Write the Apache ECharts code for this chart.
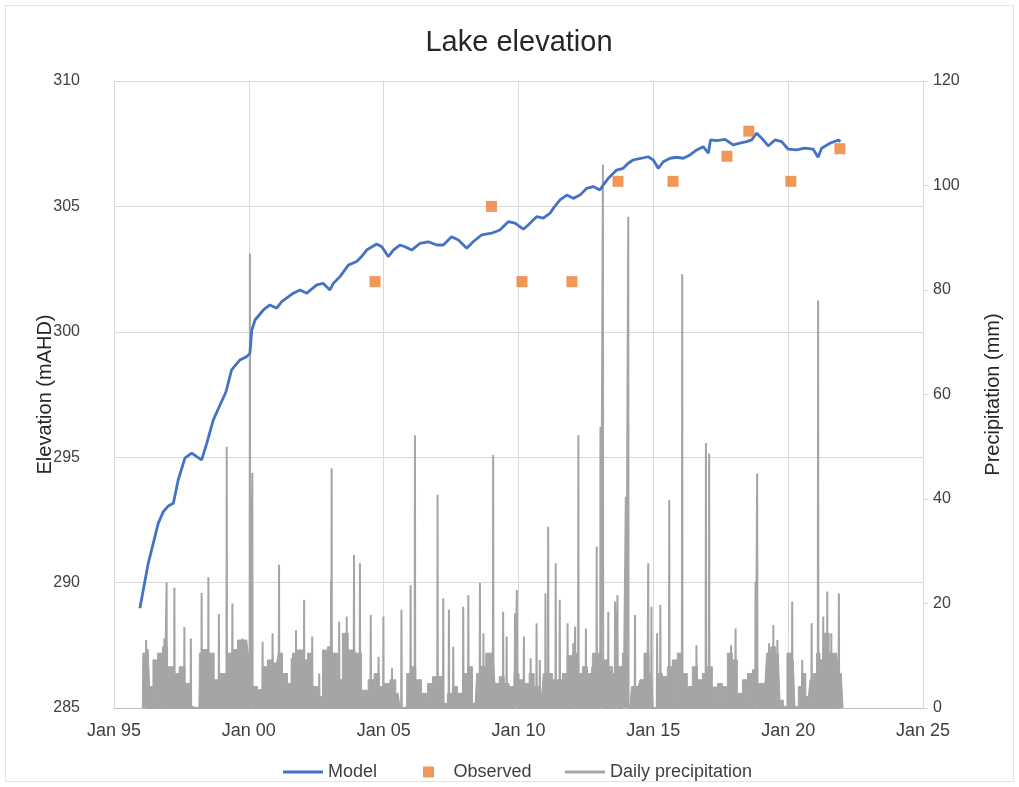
<!DOCTYPE html>
<html>
<head>
<meta charset="utf-8">
<script src="https://cdn.jsdelivr.net/npm/echarts@6/dist/echarts.min.js"></script>
<style>html,body{margin:0;padding:0;background:#fff}#c{width:1019px;height:787px}</style>
</head>
<body>
<div id="c"></div>
<script>
// ---- data ----
const xTickLabels = ['Jan 95','Jan 00','Jan 05','Jan 10','Jan 15','Jan 20','Jan 25'];

const modelYears = [1995.96,1996.27,1996.64,1996.83,1997.01,1997.20,1997.38,1997.63,1997.88,1998.07,1998.25,1998.44,1998.68,1998.93,1999.15,1999.36,1999.67,1999.92,2000.04,2000.11,2000.23,2000.54,2000.78,2001.03,2001.22,2001.65,2001.90,2002.15,2002.52,2002.76,2003.01,2003.13,2003.38,2003.69,2004.00,2004.18,2004.37,2004.74,2004.93,2005.17,2005.36,2005.60,2005.79,2006.04,2006.35,2006.65,2006.97,2007.21,2007.52,2007.77,2008.08,2008.32,2008.63,2009.00,2009.31,2009.62,2009.87,2010.18,2010.36,2010.67,2010.92,2011.17,2011.29,2011.54,2011.79,2012.03,2012.28,2012.53,2012.77,2013.02,2013.14,2013.33,2013.64,2013.88,2014.07,2014.25,2014.57,2014.81,2015.00,2015.18,2015.37,2015.62,2015.86,2016.11,2016.36,2016.61,2016.85,2017.04,2017.12,2017.35,2017.66,2017.96,2018.21,2018.46,2018.65,2018.83,2019.02,2019.26,2019.51,2019.76,2020.00,2020.31,2020.62,2020.93,2021.11,2021.24,2021.55,2021.86,2021.94];
const modelElev = [288.98,290.77,292.36,292.83,293.05,293.16,294.09,294.96,295.16,295.02,294.89,295.55,296.48,297.08,297.60,298.48,298.88,299.01,299.14,300.07,300.47,300.87,301.07,300.94,301.20,301.54,301.67,301.54,301.87,301.93,301.67,301.93,302.20,302.66,302.80,303.00,303.26,303.50,303.39,303.00,303.26,303.46,303.39,303.26,303.53,303.59,303.46,303.46,303.79,303.66,303.33,303.59,303.86,303.93,304.06,304.39,304.33,304.09,304.26,304.59,304.53,304.73,304.92,305.26,305.45,305.32,305.45,305.72,305.79,305.65,305.85,306.12,306.45,306.52,306.72,306.85,306.92,306.98,306.85,306.52,306.78,306.92,306.96,306.92,307.05,307.25,307.38,307.12,307.65,307.62,307.67,307.45,307.52,307.58,307.65,307.92,307.72,307.41,307.65,307.58,307.28,307.25,307.32,307.28,306.96,307.32,307.52,307.65,307.58];

const obsYears = [2004.68,2009.00,2010.13,2011.98,2013.69,2015.73,2017.73,2018.54,2020.10,2021.92];
const obsElev  = [302.0,305.0,302.0,302.0,306.0,306.0,307.0,308.0,306.0,307.3];

const spikeYears = [1996.19,1996.87,1996.95,1997.24,1997.61,1997.85,1998.25,1998.50,1998.89,1999.18,1999.39,1999.76,2000.04,2000.13,2000.51,2000.88,2001.12,2001.37,2001.59,2001.75,2002.05,2002.35,2002.61,2003.05,2003.07,2003.35,2003.63,2003.90,2004.12,2004.52,2004.81,2004.99,2005.31,2005.66,2006.00,2006.16,2007.00,2007.21,2007.42,2007.58,2007.95,2008.14,2008.57,2008.70,2009.06,2009.43,2009.56,2009.87,2009.94,2010.20,2010.45,2010.67,2010.79,2011.00,2011.10,2011.38,2011.53,2011.82,2012.03,2012.10,2012.22,2012.50,2012.73,2012.90,2013.04,2013.13,2013.33,2013.58,2013.67,2013.89,2013.98,2014.07,2014.32,2014.77,2014.81,2014.93,2015.14,2015.26,2015.59,2016.07,2016.60,2016.95,2017.07,2017.88,2018.05,2018.79,2018.85,2019.29,2019.45,2019.60,2020.15,2020.52,2020.87,2021.11,2021.30,2021.45,2021.60,2021.88];
const spikeMm = [13,13.3,24,23,15.5,13.3,22,25,18,50,20,13.3,87,45,12.7,14.3,27.4,6.6,9.5,14.9,20.7,13.7,6.6,24.5,45.9,16.5,17.5,29.3,27.7,17.8,9.8,17.5,7.6,18.8,23.5,52.2,40.8,21,18.8,11.7,19.4,21.6,23.9,14.3,48.4,18.4,13.7,18.1,22.6,13.7,9.5,16.2,9.2,21.9,34.7,27.7,20.7,16.2,12.4,15.6,52.2,15.2,7.9,30.9,53.8,104,18.4,20.4,21.6,10.5,40.4,94,17.8,10.5,27.7,19.4,14.3,19.7,39.8,83,12,50.7,48.7,12,15.2,24.2,44.9,12.4,15.9,13,20.4,9.2,16.2,78,17.5,22.3,14.3,21.9];

const baseYears = [1996.05,1996.09,1996.27,1996.37,1996.52,1996.71,1996.89,1997.08,1997.32,1997.51,1997.75,1997.94,1997.98,1998.15,1998.19,1998.37,1998.62,1998.81,1999.05,1999.30,1999.49,1999.67,1999.92,2000.04,2000.23,2000.41,2000.60,2000.78,2001.03,2001.16,2001.34,2001.53,2001.71,2001.90,2002.08,2002.27,2002.45,2002.64,2002.82,2003.01,2003.19,2003.38,2003.56,2003.81,2004.06,2004.30,2004.55,2004.74,2004.93,2005.11,2005.36,2005.54,2005.67,2005.79,2005.92,2006.10,2006.28,2006.53,2006.72,2006.90,2007.09,2007.27,2007.46,2007.64,2007.83,2008.02,2008.20,2008.39,2008.51,2008.69,2008.88,2009.06,2009.19,2009.38,2009.56,2009.74,2009.93,2010.11,2010.30,2010.49,2010.67,2010.86,2010.98,2011.17,2011.35,2011.54,2011.72,2011.91,2012.09,2012.28,2012.46,2012.65,2012.83,2013.02,2013.20,2013.39,2013.58,2013.76,2013.95,2014.13,2014.25,2014.44,2014.56,2014.75,2014.93,2015.06,2015.14,2015.24,2015.43,2015.61,2015.80,2015.98,2016.17,2016.35,2016.54,2016.73,2016.91,2017.10,2017.28,2017.47,2017.65,2017.84,2018.02,2018.21,2018.40,2018.58,2018.77,2018.95,2019.14,2019.26,2019.45,2019.63,2019.76,2019.88,2020.03,2020.19,2020.31,2020.44,2020.56,2020.75,2020.87,2020.99,2021.12,2021.24,2021.43,2021.61,2021.80,2021.92,2022.02,2022.05];
const baseMm = [0,10.5,11.2,4.1,9.2,10.5,11.7,7.9,6.6,7.9,4.7,0.3,0,0,10.5,11.2,10.5,5.4,6.6,10.5,11.2,13,13,10.5,4.1,3.5,7.9,9.2,8.6,10.5,6.6,4.7,10.5,11.1,9.2,10.5,4.1,2.2,11.1,11.7,10.5,5.4,14.3,11.1,10.5,3.4,5.4,6.6,4.1,4.7,5.4,2.8,0,0.3,6.6,7.9,5.4,2.8,4.7,6,6,0.9,2.8,4.1,2.8,6.6,7.9,0.9,6.6,7.9,10.5,10.5,4.7,6,4.7,4.1,6.6,5.4,4.7,6.6,4.1,2.8,6.6,6.6,5.4,5.4,6.6,10,10.5,6.6,7.9,6.6,10.5,10.5,9.2,7.9,6.6,7.9,10.5,0.3,4.1,4.1,5.4,10.5,6.6,0,0.3,6.6,6,7.9,9.2,10.5,6.6,4.1,7.9,5.4,6.6,7.9,4,4.7,4.1,10.5,9.2,2.8,5.4,6.6,7.3,4.7,4.7,10.5,11.7,10.5,1.5,0.3,10.5,9.2,0.3,4.1,6.6,2.2,5.4,6.6,10.5,9.2,14.3,10.5,10.5,6.6,6.6,0];

// ---- build ----
const modelData = modelYears.map((y,i)=>[y, modelElev[i]]);
const obsData = obsYears.map((y,i)=>[y, obsElev[i]]);
const baseData = baseYears.map((y,i)=>[y, baseMm[i]]);
const spikeData = [];
spikeYears.forEach((y,i)=>{ spikeData.push([y-0.012,0],[y,spikeMm[i]],[y+0.012,0]); });

const gray = '#A5A5A5';
const txt = '#404040';
const font = 'Liberation Sans, Arial, sans-serif';
const linePath = 'path://M0,0 L40,0 L40,3 L0,3 Z';
const squarePath = 'path://M0,0 L10,0 L10,10 L0,10 Z';
const legendCommon = {top: 758, itemWidth: 40, itemHeight: 11, symbolKeepAspect: true,
  textStyle: {fontSize: 18, color: txt, fontFamily: font}};

const chart = echarts.init(document.getElementById('c'), null, {renderer:'canvas'});
chart.setOption({
  animation: false,
  backgroundColor: '#fff',
  textStyle: {fontFamily: font},
  title: {text: 'Lake elevation', left: 514, textAlign: 'center', top: 23,
    textStyle: {fontSize: 29, fontWeight: 'normal', color: '#262626', fontFamily: font}},
  graphic: [{type:'rect', shape:{x:5.5,y:5.5,width:1008,height:776}, style:{fill:'none', stroke:'#e3e3e3', lineWidth:1}, silent:true}],
  grid: {left: 114, right: 96, top: 81, bottom: 79, containLabel: false},
  legend: [
    Object.assign({left: 278, data: [{name:'Model', icon: linePath}]}, legendCommon),
    Object.assign({left: 418, data: [{name:'Observed', icon: squarePath}]}, legendCommon),
    Object.assign({left: 560, data: [{name:'Daily precipitation', icon: linePath}]}, legendCommon)
  ],
  xAxis: {type:'value', min:1995, max:2025, interval:5,
    axisLine:{show:true, lineStyle:{color:'#bfbfbf'}}, axisTick:{show:false},
    axisLabel:{fontSize:18, color:txt, margin:14, formatter: v => xTickLabels[Math.round((v-1995)/5)] || ''},
    splitLine:{show:true, lineStyle:{color:'#d9d9d9'}}},
  yAxis: [
    {type:'value', min:285, max:310, interval:5, name:'Elevation (mAHD)', nameLocation:'middle', nameGap:59, nameRotate:90, nameMoveOverlap:false,
      nameTextStyle:{fontSize:20, color:'#262626'},
      axisLine:{show:false}, axisTick:{show:false},
      axisLabel:{fontSize:16, color:txt, margin:34},
      splitLine:{show:true, lineStyle:{color:'#d9d9d9'}}},
    {type:'value', min:0, max:120, interval:20, name:'Precipitation (mm)', nameLocation:'middle', nameGap:60, nameRotate:90, nameMoveOverlap:false,
      nameTextStyle:{fontSize:20, color:'#262626'},
      position:'right', axisLine:{show:true, lineStyle:{color:'#d9d9d9'}}, axisTick:{show:true, length:5, lineStyle:{color:'#d9d9d9'}},
      axisLabel:{fontSize:16, color:txt, margin:10},
      splitLine:{show:false}}
  ],
  series: [
    {name:'Daily precipitation', type:'line', yAxisIndex:1, data: spikeData, symbol:'none',
      lineStyle:{color:gray, width:2}, itemStyle:{color:gray}, z:1},
    {name:'Daily precipitation', type:'line', yAxisIndex:1, data: baseData, symbol:'none', step:'middle',
      lineStyle:{color:gray, width:1}, itemStyle:{color:gray}, areaStyle:{color:gray, opacity:1}, z:1},
    {name:'Model', type:'line', yAxisIndex:0, data: modelData, symbol:'none',
      lineStyle:{color:'#4472C4', width:2.8}, itemStyle:{color:'#4472C4'}, z:3},
    {name:'Observed', type:'scatter', yAxisIndex:0, data: obsData, symbol:'rect', symbolSize:11,
      itemStyle:{color:'#ED7D31'}, z:4}
  ]
});
</script>
</body>
</html>
